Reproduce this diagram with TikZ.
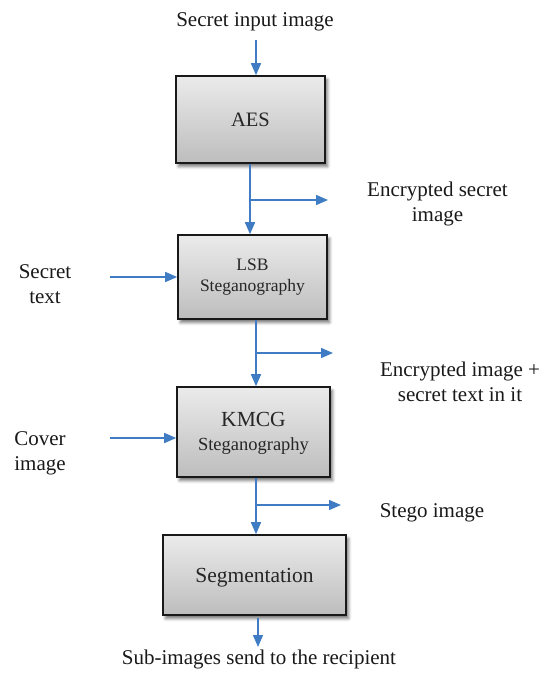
\documentclass[tikz,border=0pt]{standalone}
\usepackage{fontspec}
\setmainfont{Liberation Serif}
\usetikzlibrary{arrows.meta,shadows.blur,calc}
\definecolor{flow}{HTML}{3F7CC4}
\definecolor{boxtop}{HTML}{EBEBEB}
\definecolor{boxbot}{HTML}{BDBDBD}
\begin{document}
\begin{tikzpicture}[x=1pt,y=-1pt,
  stage/.style={draw=black!90, line width=1.6pt, top color=boxtop, bottom color=boxbot,
    inner sep=0pt, align=center, text=black!85,
    blur shadow={shadow xshift=2.5pt, shadow yshift=-3.5pt, shadow blur radius=3pt, shadow opacity=55}},
  lbl/.style={inner sep=0pt, align=center, text=black!90, font=\fontsize{21}{25}\selectfont},
  arr/.style={draw=flow, line width=1.5pt, -{Triangle[length=12pt,width=10pt]}, fill=flow}]
\useasboundingbox (0,0) rectangle (545,673);

% processing stages
\node[stage, minimum width=149pt, minimum height=87pt, font=\fontsize{20.5}{24}\selectfont]
  (aes) at (250.5,119.5) {AES};
\node[stage, minimum width=149pt, minimum height=84pt, font=\fontsize{17.5}{21}\selectfont,
  text depth=4pt]
  (lsb) at (252.5,277) {LSB\\Steganography};
\node[stage, minimum width=153pt, minimum height=90pt, font=\fontsize{18.5}{24}\selectfont,
  text depth=2pt]
  (kmcg) at (253.5,432) {{\fontsize{21.5}{24}\selectfont KMCG}\\Steganography};
\node[stage, minimum width=183pt, minimum height=80pt, font=\fontsize{21.5}{25}\selectfont,
  text depth=0pt]
  (seg) at (254.5,575) {Segmentation};

% labels (base anchor sits on the last line)
\node[lbl, anchor=base] (input) at (255,26) {Secret input image};
\node[lbl, anchor=base] (enc) at (437.5,221) {Encrypted secret\\image};
\node[lbl, anchor=base] (sectext) at (45,303) {Secret\\text};
\node[lbl, anchor=base] (encimg) at (460,401) {Encrypted image +\\secret text in it};
\node[lbl, anchor=base] (cover) at (40,470) {Cover\\image};
\node[lbl, anchor=base] (stego) at (432,517) {Stego image};
\node[lbl, anchor=base] (out) at (259,664) {Sub-images send to the recipient};

% connector end points
\coordinate (inTop) at (256,40);
\coordinate (b1) at (250,200);  \coordinate (e1) at (328,200);
\coordinate (b2) at (256,353);  \coordinate (e2) at (333,353);
\coordinate (b3) at (256,505);  \coordinate (e3) at (341,505);
\coordinate (tS) at (110,277);  \coordinate (tC) at (110,438);
\coordinate (oB) at (258,618);  \coordinate (oE) at (258,647);

% flow
\draw[arr] (inTop) -- (inTop |- aes.north);
\draw[arr] (aes.south -| b1) -- (lsb.north -| b1);
\draw[arr] (b1) -- (e1);
\draw[arr] (tS) -- (tS -| lsb.west);
\draw[arr] (lsb.south -| b2) -- (kmcg.north -| b2);
\draw[arr] (b2) -- (e2);
\draw[arr] (tC) -- (tC -| kmcg.west);
\draw[arr] (kmcg.south -| b3) -- (seg.north -| b3);
\draw[arr] (b3) -- (e3);
\draw[arr] (oB) -- (oE);
\end{tikzpicture}
\end{document}
